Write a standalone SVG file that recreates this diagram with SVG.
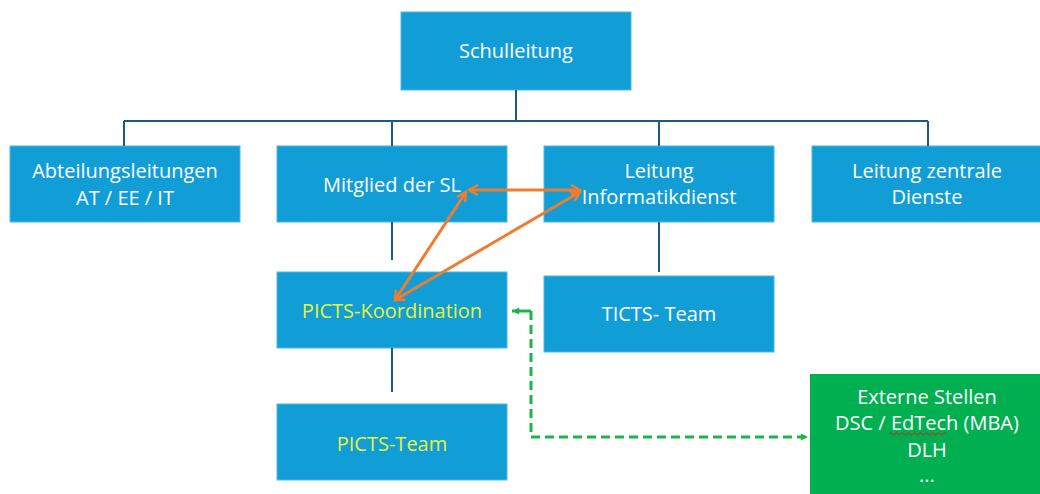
<svg xmlns="http://www.w3.org/2000/svg" width="1040" height="494" viewBox="0 0 1040 494">
<defs>
<style>
.box{fill:#119ed6;stroke:#4cb6e4;stroke-width:1}
.green{fill:#00b050}
.t{font-family:"Open Sans","Liberation Sans",sans-serif;font-size:20px;fill:#ffffff;text-anchor:middle}
.y{fill:#e9f23a}
.tree{stroke:#1c5b7e;stroke-width:2;fill:none}
.org{stroke:#ed7d31;stroke-width:3;fill:none}
.dash{stroke:#1fb34a;stroke-width:3;fill:none;stroke-dasharray:9 5}
</style>
<marker id="oa" viewBox="0 0 12 12" refX="10" refY="6" markerWidth="12" markerHeight="12" orient="auto-start-reverse" markerUnits="userSpaceOnUse">
<path d="M1,1 L10,6 L1,11" fill="none" stroke="#ed7d31" stroke-width="2.5"/>
</marker>
<marker id="ga" viewBox="0 0 10 10" refX="9" refY="5" markerWidth="9" markerHeight="9" orient="auto-start-reverse" markerUnits="userSpaceOnUse">
<path d="M1,1 L9,5 L1,9 Z" fill="#1fb34a"/>
</marker>
</defs>
<rect width="1040" height="494" fill="#ffffff"/>
<g id="schulleitung"><rect class="box" x="401" y="12" width="230" height="78"/><text class="t" x="516" y="58">Schulleitung</text></g>
<g id="abteilungsleitungen"><rect class="box" x="10" y="146" width="230" height="76"/><text class="t" x="125" y="178">Abteilungsleitungen</text><text class="t" x="125" y="205">AT / EE / IT</text></g>
<g id="mitglied"><rect class="box" x="277" y="146" width="230" height="76"/><text class="t" x="392" y="192">Mitglied der SL</text></g>
<g id="leitung-informatik"><rect class="box" x="544" y="146" width="230" height="76"/><text class="t" x="659" y="178">Leitung</text><text class="t" x="659" y="204">Informatikdienst</text></g>
<g id="leitung-zentrale"><rect class="box" x="812" y="146" width="230" height="76"/><text class="t" x="927" y="178">Leitung zentrale</text><text class="t" x="927" y="204">Dienste</text></g>
<g id="picts-koordination"><rect class="box" x="277" y="272" width="230" height="76"/><text class="t y" x="392" y="318">PICTS-Koordination</text></g>
<g id="ticts-team"><rect class="box" x="544" y="276" width="230" height="76"/><text class="t" x="659" y="321">TICTS- Team</text></g>
<g id="picts-team"><rect class="box" x="277" y="404" width="230" height="76"/><text class="t y" x="392" y="451">PICTS-Team</text></g>
<g id="externe-stellen"><rect class="green" x="810" y="374" width="232" height="122"/>
<text class="t" x="927" y="404">Externe Stellen</text>
<text class="t" x="927" y="430">DSC / EdTech (MBA)</text>
<path d="M889,434 q1.5,-2 3,0 t3,0 t3,0 t3,0 t3,0 t3,0 t3,0 t3,0 t3,0 t3,0 t3,0 t3,0 t3,0 t3,0 t3,0 t3,0 t3,0 t3,0 t3,0" fill="none" stroke="#d02020" stroke-width="1"/>
<text class="t" x="927" y="457">DLH</text>
<text class="t" x="927" y="482">...</text>
</g>
<g id="connectors">
<path class="tree" d="M516,90 V121 M124,121 H928 M124,121 V146 M392,121 V146 M659,121 V146 M928,121 V146"/>
<path class="tree" d="M392,222 V260 M659,222 V272 M392,348 V392"/>
<line class="org" x1="469" y1="190" x2="580" y2="190" marker-start="url(#oa)" marker-end="url(#oa)"/>
<line class="org" x1="466" y1="192" x2="395" y2="300" marker-start="url(#oa)" marker-end="url(#oa)"/>
<line class="org" x1="580" y1="192" x2="395" y2="300" marker-start="url(#oa)" marker-end="url(#oa)"/>
<path class="dash" d="M531,311 V437 H808" marker-end="url(#ga)"/>
<line x1="531" y1="311" x2="512" y2="311" stroke="#1fb34a" stroke-width="3" marker-end="url(#ga)"/>
</g>
</svg>
